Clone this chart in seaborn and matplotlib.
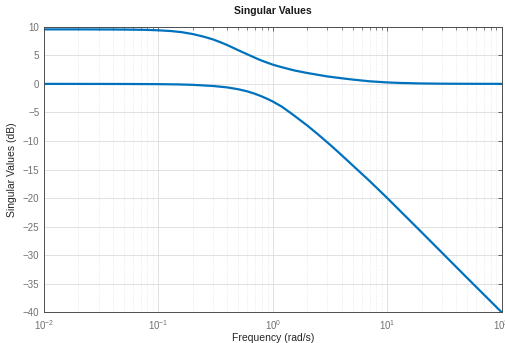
import pandas as pd
import numpy as np
import matplotlib
matplotlib.use('Agg')
import matplotlib.pyplot as plt
import seaborn as sns
from matplotlib.ticker import LogLocator, NullFormatter

# Values (frequency in rad/s, singular values in dB)
freq_upper = [0.01, 0.02, 0.04, 0.06, 0.08, 0.1, 0.13, 0.16, 0.2, 0.25, 0.3, 0.35,
              0.4, 0.45, 0.5, 0.56, 0.63, 0.7, 0.79, 0.9, 1.0, 1.2, 1.54, 2.0,
              3.0, 4.0, 5.0, 7.0, 10.0, 13.0, 20.0, 30.0, 50.0, 100.0]
sv_upper = [9.54, 9.54, 9.52, 9.49, 9.45, 9.38, 9.24, 9.05, 8.72, 8.25, 7.78, 7.27,
            6.79, 6.31, 5.88, 5.43, 4.97, 4.56, 4.11, 3.69, 3.36, 2.91, 2.35, 1.9,
            1.3, 0.98, 0.75, 0.45, 0.25, 0.16, 0.07, 0.03, 0.01, 0.0]

freq_lower = [0.01, 0.02, 0.05, 0.1, 0.15, 0.2, 0.3, 0.4, 0.5, 0.6, 0.7, 0.8, 0.9,
              1.0, 1.2, 1.5, 2.0, 2.5, 3.2, 4.0, 5.0, 7.0, 10.0, 20.0, 50.0, 100.0]
sv_lower = [0.0, -0.01, -0.02, -0.05, -0.1, -0.17, -0.37, -0.62, -0.95, -1.32, -1.75,
            -2.2, -2.65, -3.1, -4.0, -5.4, -7.3, -8.9, -10.75, -12.5, -14.3, -17.0,
            -20.0, -26.0, -34.0, -40.0]

y_ticks = list(range(-40, 11, 5))

df = pd.concat([
    pd.DataFrame({'freq': freq_upper, 'sv': sv_upper, 'curve': 'sigma1'}),
    pd.DataFrame({'freq': freq_lower, 'sv': sv_lower, 'curve': 'sigma2'}),
])

sns.set_theme(style='white')
plt.rcParams['font.family'] = ['Liberation Sans', 'DejaVu Sans']
plt.rcParams['mathtext.fontset'] = 'custom'
plt.rcParams['mathtext.rm'] = 'Liberation Sans'
plt.rcParams['mathtext.it'] = 'Liberation Sans'

fig = plt.figure(figsize=(5.06, 3.43), dpi=100)
ax = fig.add_axes([0.087, 0.0895, 0.9045, 0.8325])

matlab_blue = '#0072BD'
sns.lineplot(data=df, x='freq', y='sv', hue='curve',
             palette=[matlab_blue, matlab_blue], legend=False,
             linewidth=1.6, ax=ax, sort=False)

ax.set_xscale('log')
ax.set_xlim(0.01, 100)
ax.set_ylim(-40, 10)
ax.set_yticks(y_ticks)
ax.xaxis.set_major_locator(LogLocator(base=10, numticks=10))
ax.xaxis.set_minor_locator(LogLocator(base=10, subs=np.arange(2, 10), numticks=20))
ax.xaxis.set_minor_formatter(NullFormatter())

# grid like MATLAB: solid majors, dotted minors on the log axis
ax.grid(True, which='major', color='#dcdcdc', linewidth=0.6, linestyle='-')
ax.grid(True, which='minor', axis='x', color='#e4e4e4', linewidth=0.6, linestyle=':')
ax.set_axisbelow(True)

for s in ax.spines.values():
    s.set_color('#4d4d4d')
    s.set_linewidth(0.7)

ax.tick_params(which='both', direction='in', top=True, right=True,
               colors='#4d4d4d', labelcolor='#707070', labelsize=7)
ax.tick_params(which='major', length=3, width=0.6)
ax.tick_params(which='minor', length=1.8, width=0.5)
ax.tick_params(axis='x', pad=4)

ax.set_title('Singular Values', fontsize=7.5, fontweight='bold', color='#1a1a1a', pad=9)
ax.set_xlabel('Frequency (rad/s)', fontsize=7.5, color='#262626', labelpad=1)
ax.set_ylabel('Singular Values (dB)', fontsize=7.5, color='#262626', labelpad=4)

fig.savefig('out.png', dpi=100)
plt.close(fig)
